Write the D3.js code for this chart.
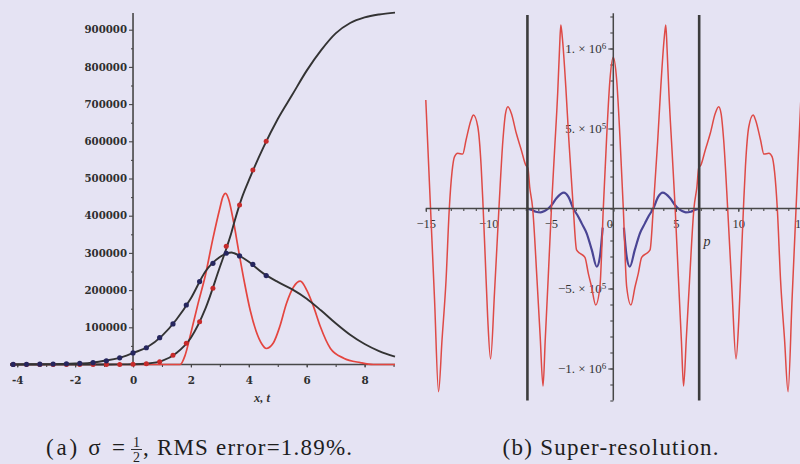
<!DOCTYPE html>
<html>
<head>
<meta charset="utf-8">
<script src="https://cdn.jsdelivr.net/npm/d3@7"></script>
<style>
  html, body { margin: 0; padding: 0; background: #e5e3f3; }
  svg { display: block; }
</style>
</head>
<body>
<svg id="fig" width="800" height="464"></svg>
<script>
// ---------- panel (a): sigma = 1/2 reconstruction ----------
const tLine = [-4.25, -3.5, -3, -2.5, -2, -1.5, -1, -0.5, 0, 0.5, 1, 1.5, 2, 2.5, 3, 3.25, 3.4, 3.5, 3.75, 4,
               4.5, 5, 5.5, 6, 6.5, 7, 7.5, 8, 8.5, 9.05];
const cumulativeVals = [0, 0, 0, 0, 0, 0, 100, 300, 600, 2500, 9500, 31000, 72000, 150000, 262000, 318000, 355000,
                        383000, 446000, 495000, 583000, 660000, 725000, 790000, 845000, 890000, 918000, 933000, 941000, 946000];
const broadVals = [200, 500, 900, 1500, 2500, 4500, 10000, 17000, 31000, 47000, 77000, 121000, 178000, 250000, 289000,
                   299000, 301000, 299000, 289000, 276000, 245000, 222000, 202000, 177000, 145000, 111000, 80000, 55000, 36000, 21000];

const tRed = [-4.25, 1.5, 1.63, 1.8, 2.0, 2.25, 2.5, 2.75, 3.0, 3.1, 3.2, 3.3, 3.47, 3.65, 3.85, 4.05, 4.25, 4.45, 4.6,
              4.84, 5.07, 5.3, 5.55, 5.78, 6.0, 6.24, 6.47, 6.82, 7.28, 7.85, 8.3, 9.05];
const redVals = [0, 0, 0, 25000, 85000, 165000, 240000, 335000, 420000, 450000, 460000, 445000, 385000, 305000, 220000,
                 145000, 90000, 55000, 43000, 57000, 102000, 164000, 209000, 224000, 200000, 155000, 102000, 43000, 17000, 5000, 0, 0];

const tDots = [-4.14, -3.68, -3.22, -2.76, -2.30, -1.84, -1.38, -0.92, -0.46, 0, 0.46, 0.92, 1.38, 1.84, 2.30, 2.76,
               3.22, 3.68, 4.14, 4.60];
const redDotVals = [0, 0, 0, 0, 0, 0, 0, 100, 300, 600, 2000, 7500, 25000, 57000, 115000, 205000, 318000, 429000, 523000, 600000];
const blueDotVals = [300, 500, 800, 1300, 2000, 3000, 5000, 10000, 18000, 31000, 45000, 72000, 109000, 160000, 223000,
                     272000, 299000, 292000, 269000, 239000];

const xTicksA = [-4, -2, 0, 2, 4, 6, 8];
const xMinorA = [-4, -3, -2, -1, 0, 1, 2, 3, 4, 5, 6, 7, 8, 9];
const yTicksA = [100000, 200000, 300000, 400000, 500000, 600000, 700000, 800000, 900000];
const yMinorA = [50000, 150000, 250000, 350000, 450000, 550000, 650000, 750000, 850000];
const yTopA = 945000;

// ---------- panel (b): super-resolution ----------
const pRed = [-15.0, -14.62, -14.3, -13.98, -13.7, -13.38, -13.12, -12.9, -12.7, -12.45, -12.05, -11.78, -11.38, -11.19,
  -10.84, -10.57, -10.44, -10.25, -10.05, -9.82, -9.5, -9.15, -8.83, -8.62, -8.43, -8.16, -7.76, -7.36, -7.01, -6.83,
  -6.69, -6.45, -6.1, -5.85, -5.62, -5.45, -5.2, -4.95, -4.7, -4.45, -4.3, -4.2, -4.08, -3.8, -3.55, -3.2, -2.94, -2.67,
  -2.27, -2.0, -1.74, -1.41, -1.07, -0.8, -0.53, -0.27, 0,
  0.27, 0.53, 0.8, 1.07, 1.41, 1.74, 2.0, 2.27, 2.67, 2.94, 3.2, 3.55, 3.8, 4.08, 4.2, 4.3, 4.45, 4.7, 4.95, 5.2, 5.45,
  5.62, 5.85, 6.1, 6.45, 6.69, 6.83, 7.01, 7.36, 7.76, 8.16, 8.43, 8.62, 8.83, 9.15, 9.5, 9.82, 10.05, 10.25, 10.44,
  10.57, 10.84, 11.19, 11.38, 11.78, 12.05, 12.45, 12.7, 12.9, 13.12, 13.38, 13.7, 13.98, 14.3, 14.62, 15.0];
const redB = [678000, 0, -570000, -1145000, -819000, -447000, 0, 230000, 324000, 345000, 340000, 428000, 553000, 584000,
  511000, 261000, 53000, -300000, -680000, -940000, -520000, 0, 428000, 595000, 636000, 595000, 470000, 366000, 272000,
  251000, 136000, 0, -450000, -800000, -1110000, -830000, -420000, 0, 360000, 720000, 1000000, 1147000, 1070000, 760000,
  420000, 0, -259000, -280000, -305000, -405000, -489000, -603000, -489000, 0, 449000, 803000, 945000,
  803000, 449000, 0, -489000, -603000, -489000, -405000, -305000, -280000, -259000, 0, 420000, 760000, 1070000, 1147000,
  1000000, 720000, 360000, 0, -420000, -830000, -1110000, -800000, -450000, 0, 136000, 251000, 272000, 366000, 470000,
  595000, 636000, 595000, 428000, 0, -520000, -940000, -680000, -300000, 53000, 261000, 511000, 584000, 553000, 428000,
  340000, 345000, 324000, 230000, 0, -447000, -819000, -1145000, -570000, 0, 678000];

// the central lobe of this series runs underneath the red one and is left undrawn (null)
const pBlue = [-6.87, -6.5, -6.2, -5.8, -5.5, -5.2, -4.95, -4.55, -3.95, -3.6, -3.2, -2.8, -2.53, -2.13, -1.72, -1.32,
  -1.07, -0.85, 0, 0.85, 1.07, 1.32, 1.72, 2.13, 2.53, 2.8, 3.2, 3.6, 3.95, 4.55, 4.95, 5.2,
  5.5, 5.8, 6.2, 6.5, 6.87];
const blueB = [0, -10000, -20000, -24000, -16000, 0, 20000, 64000, 99000, 74000, 0, -51000, -93000, -155000, -259000,
  -364000, -301000, -120000, null, -120000, -301000, -364000, -259000, -155000, -93000, -51000,
  0, 74000, 99000, 64000, 20000, 0, -16000, -24000, -20000, -10000, 0];

const xTicksB = [-15, -10, -5, 0, 5, 10, 15];
const xMinorB = d3.range(-15, 16);
const yTicksB = [-1000000, -500000, 500000, 1000000];
const yTickMantissa = ["\u22121. \u00d7 10", "\u22125. \u00d7 10", "5. \u00d7 10", "1. \u00d7 10"];
const yTickExponent = ["6", "5", "5", "6"];
const yMinorB = d3.range(-12, 13).map(k => k * 100000);
const barPositions = [-6.87, 6.87];
const barTop = 1210000, barBottom = -1200000;
const yAxisExtentB = [-1200000, 1220000];

// ---------- drawing ----------
const svg = d3.select("#fig");
const axisColor = "#474747";
const tickFont = "'DejaVu Serif', serif";
const texFont = "'Liberation Serif', 'Times New Roman', serif";

function styleAxis(g, font, size, color) {
  g.select(".domain").remove();
  g.selectAll(".tick line").attr("stroke", axisColor).attr("stroke-width", 1.1);
  g.selectAll(".tick text").attr("font-family", font).attr("font-size", size).attr("fill", color || "#2e2e2e");
  return g;
}

// panel (a) scales
const xA = d3.scaleLinear().domain([-4.25, 9.05]).range([10, 395]);
const yA = d3.scaleLinear().domain([0, 1000000]).range([364.5, -7.5]);
const gA = svg.append("g");

gA.append("g").attr("transform", `translate(0,${yA(0)})`)
  .call(d3.axisBottom(xA).tickValues(xMinorA).tickSize(2.5).tickFormat(""))
  .call(g => styleAxis(g, tickFont, 10));
gA.append("g").attr("transform", `translate(0,${yA(0)})`)
  .call(d3.axisBottom(xA).tickValues(xTicksA).tickSize(3).tickPadding(9).tickFormat(d => String(d)))
  .call(g => styleAxis(g, tickFont, "10.4px"))
  .call(g => g.selectAll(".tick text").attr("font-weight", 600));
gA.append("g").attr("transform", `translate(${xA(0)},0)`)
  .call(d3.axisLeft(yA).tickValues(yMinorA).tickSize(2).tickFormat(""))
  .call(g => styleAxis(g, tickFont, 10));
gA.append("g").attr("transform", `translate(${xA(0)},0)`)
  .call(d3.axisLeft(yA).tickValues(yTicksA).tickSize(4).tickPadding(2).tickFormat(d3.format("d")))
  .call(g => styleAxis(g, tickFont, "10.2px"))
  .call(g => g.selectAll(".tick text").attr("font-weight", 600));

// axis lines of panel (a)
gA.append("line").attr("x1", xA(-4.25)).attr("x2", xA(9.05)).attr("y1", yA(0)).attr("y2", yA(0))
  .attr("stroke", axisColor).attr("stroke-width", 1.6);
gA.append("line").attr("x1", xA(0)).attr("x2", xA(0)).attr("y1", yA(0)).attr("y2", yA(yTopA))
  .attr("stroke", axisColor).attr("stroke-width", 1.6);

gA.append("text").attr("x", 262).attr("y", 402).attr("text-anchor", "middle")
  .attr("font-family", texFont).attr("font-style", "italic").attr("font-weight", "bold")
  .attr("font-size", "12.5px").attr("fill", "#333")
  .text("x, t");

const lineA = (xs, ys) => d3.line().x((d, i) => xA(xs[i])).y((d, i) => yA(ys[i])).curve(d3.curveMonotoneX)(ys);

gA.append("path").attr("d", lineA(tRed, redVals)).attr("fill", "none")
  .attr("stroke", "#e4453f").attr("stroke-width", 1.7);
gA.append("path").attr("d", lineA(tLine, broadVals)).attr("fill", "none")
  .attr("stroke", "#333").attr("stroke-width", 1.9);
gA.append("path").attr("d", lineA(tLine, cumulativeVals)).attr("fill", "none")
  .attr("stroke", "#333").attr("stroke-width", 1.9);

gA.append("g").selectAll("circle").data(redDotVals).join("circle")
  .attr("cx", (d, i) => xA(tDots[i])).attr("cy", d => yA(d)).attr("r", 2.5).attr("fill", "#c62b2b");
gA.append("g").selectAll("circle").data(blueDotVals).join("circle")
  .attr("cx", (d, i) => xA(tDots[i])).attr("cy", d => yA(d)).attr("r", 2.6).attr("fill", "#26265e");

// panel (b) scales
const xB = d3.scaleLinear().domain([-15, 15]).range([425.8, 800.8]);
const yB = d3.scaleLinear().domain([-1200000, 1220000]).range([400.5, 13.3]);
const gB = svg.append("g");

gB.append("g").attr("transform", `translate(0,${yB(0)})`)
  .call(d3.axisBottom(xB).tickValues(xMinorB).tickSize(2.5).tickFormat(""))
  .call(g => styleAxis(g, texFont, 11));
gB.append("g").attr("transform", `translate(0,${yB(0)})`)
  .call(d3.axisBottom(xB).tickValues(xTicksB).tickSize(3.5).tickPadding(7)
    .tickFormat(d => d < 0 ? "\u2212" + Math.abs(d) : String(d)))
  .call(g => styleAxis(g, texFont, "12.5px", "#333"))
  .call(g => g.selectAll(".tick text").filter(d => d === 0).attr("dx", -4));
gB.append("g").attr("transform", `translate(${xB(0)},0)`)
  .call(d3.axisLeft(yB).tickValues(yMinorB).tickSize(3).tickFormat(""))
  .call(g => styleAxis(g, texFont, 11));
const yAxB = gB.append("g").attr("transform", `translate(${xB(0)},0)`)
  .call(d3.axisLeft(yB).tickValues(yTicksB).tickSize(5).tickPadding(2).tickFormat(""))
  .call(g => styleAxis(g, texFont, "13px", "#333"));
yAxB.selectAll(".tick text").each(function (d, i) {
  const t = d3.select(this);
  t.append("tspan").text(yTickMantissa[i]);
  t.append("tspan").attr("dy", "-0.45em").attr("font-size", "9px").text(yTickExponent[i]);
});

gB.append("text").attr("x", 707).attr("y", 246).attr("text-anchor", "middle")
  .attr("font-family", texFont).attr("font-style", "italic").attr("font-size", "14px").attr("fill", "#333")
  .text("p");

const lineB = (xs, ys) => d3.line().defined(d => d !== null)
  .x((d, i) => xB(xs[i])).y((d, i) => yB(ys[i])).curve(d3.curveMonotoneX)(ys);

gB.append("path").attr("d", lineB(pBlue, blueB)).attr("fill", "none")
  .attr("stroke", "#4a4594").attr("stroke-width", 2.2);
gB.append("path").attr("d", lineB(pRed, redB)).attr("fill", "none")
  .attr("stroke", "#de4a46").attr("stroke-width", 1.5);

// axis lines of panel (b)
gB.append("line").attr("x1", xB(-15)).attr("x2", xB(15)).attr("y1", yB(0)).attr("y2", yB(0))
  .attr("stroke", axisColor).attr("stroke-width", 1.6);
gB.append("line").attr("x1", xB(0)).attr("x2", xB(0)).attr("y1", yB(yAxisExtentB[0])).attr("y2", yB(yAxisExtentB[1]))
  .attr("stroke", axisColor).attr("stroke-width", 1.5);

gB.append("g").selectAll("line").data(barPositions).join("line")
  .attr("x1", d => xB(d)).attr("x2", d => xB(d)).attr("y1", yB(barTop)).attr("y2", yB(barBottom))
  .attr("stroke", "#3c3c3c").attr("stroke-width", 2.6);

// captions
const cap = svg.append("g").attr("font-family", texFont).attr("font-size", "23px").attr("fill", "#1e1e1e");
cap.append("text").attr("x", 46).attr("y", 455).attr("textLength", 79).text("(a) \u03c3 =");
cap.append("text").attr("x", 136.5).attr("y", 447).attr("text-anchor", "middle").attr("font-size", "14px").text("1");
cap.append("line").attr("x1", 131).attr("x2", 142).attr("y1", 449.5).attr("y2", 449.5)
  .attr("stroke", "#1e1e1e").attr("stroke-width", 0.9);
cap.append("text").attr("x", 136.5).attr("y", 461.5).attr("text-anchor", "middle").attr("font-size", "14px").text("2");
cap.append("text").attr("x", 143).attr("y", 455).attr("textLength", 209).text(", RMS error=1.89%.");
cap.append("text").attr("x", 502.6).attr("y", 455).attr("textLength", 216).text("(b) Super-resolution.");
</script>
</body>
</html>
